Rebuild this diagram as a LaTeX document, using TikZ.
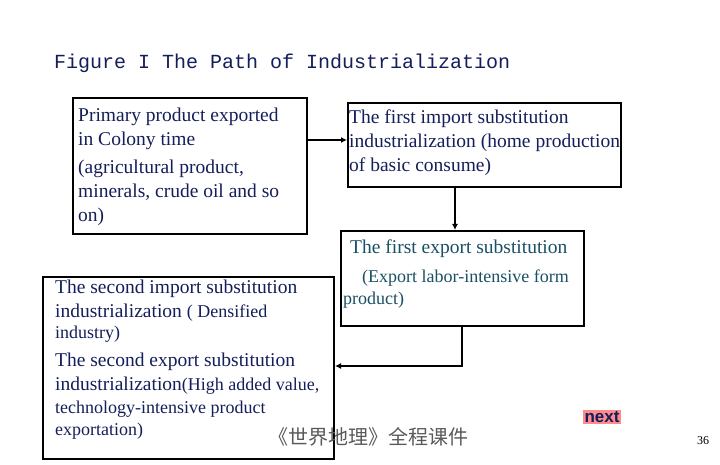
\documentclass[tikz,border=0pt]{standalone}
\usepackage{fontspec}
\usetikzlibrary{arrows.meta}
\setmainfont{Liberation Serif}
\newfontfamily\monof{Liberation Mono}
\newfontfamily\cjk{Noto Sans CJK SC}
\newfontfamily\sansf{Liberation Sans}
\definecolor{navy}{RGB}{20,30,90}
\definecolor{teal2}{RGB}{25,80,100}
\begin{document}
\begin{tikzpicture}[x=1pt,y=-1pt,
  box/.style={draw,line width=2pt,inner sep=0pt,anchor=north west},
  L/.style={anchor=base west,inner sep=0pt,font=\fontsize{19.5}{22}\selectfont,text=navy},
  S/.style={anchor=base west,inner sep=0pt,font=\fontsize{18}{20}\selectfont,text=navy},
  arr/.style={line width=1.3pt,-{Latex[length=6pt,width=6pt]}}]
\useasboundingbox (0,0) rectangle (720,465);
\node[anchor=base west,inner sep=0pt,text=navy,font=\monof\fontsize{20}{22}\selectfont] (title) at (54,69) {Figure I The Path of Industrialization};
\node[box,minimum width=234,minimum height=136] (b1) at (72,97) {};
\node[L] (a1) at (78,122) {Primary product exported};
\node[L] (a2) at (78,146) {in Colony time};
\node[L] (a3) at (78,174) {(agricultural product,};
\node[L] (a4) at (78,198) {minerals, crude oil and so};
\node[L] (a5) at (78,222) {on)};
\node[box,minimum width=273,minimum height=84] (b2) at (347,102) {};
\node[L] (c1) at (349,124) {The first import substitution};
\node[L] (c2) at (349,148) {industrialization (home production};
\node[L] (c3) at (349,172) {of basic consume)};
\node[box,minimum width=243,minimum height=95] (b3) at (340,230) {};
\node[L,text=teal2] (d1) at (350,254) {The first export substitution};
\node[S,text=teal2] (d2) at (362,282) {(Export labor-intensive form};
\node[S,text=teal2] (d3) at (343,304) {product)};
\node[box,minimum width=291,minimum height=182] (b4) at (42,276) {};
\node[L] (e1) at (55,293) {The second import substitution};
\node[L] (e2) at (55,317) {industrialization {\fontsize{18}{20}\selectfont( Densified}};
\node[S] (e3) at (55,338) {industry)};
\node[L] (e4) at (55,366) {The second export substitution};
\node[L] (e5) at (55,390) {industrialization{\fontsize{18}{20}\selectfont(High added value,}};
\node[S] (e6) at (55,413) {technology-intensive product};
\node[S] (e7) at (55,435) {exportation)};
\coordinate (k0) at (b1.east |- 0,140);
\draw[arr] (k0) -- (b2.west |- k0);
\coordinate (k1) at (455,186);
\draw[arr] (k1) -- (k1 |- b3.north);
\coordinate (k2) at (462,325);
\coordinate (k3) at (462,366);
\draw[arr] (k2) -- (k3) -- (b4.east |- k3);
\node[text=gray!70!black,font=\cjk\fontsize{20}{22}\selectfont] (foot) at (368,437) {《世界地理》全程课件};
\node[fill=red!45,text=navy,inner sep=1.5pt,font=\sansf\bfseries\fontsize{17}{18}\selectfont] (next) at (602,417) {next};
\node[font=\fontsize{12}{13}\selectfont] (pg) at (703,441) {36};
\end{tikzpicture}
\end{document}
